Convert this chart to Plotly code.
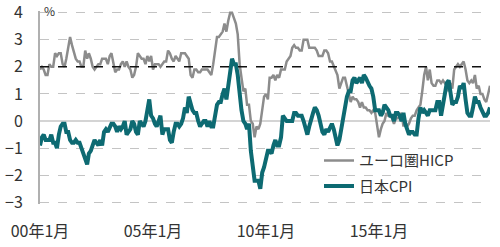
import pandas as pd
import plotly.graph_objects as go

months = pd.date_range("2000-01-01", "2019-12-01", freq="MS")

euro_hicp = [
    1.9, 2.0, 1.9, 1.7, 1.7, 2.1, 2.0, 2.0, 2.5, 2.4, 2.5, 2.5,
    2.1, 2.0, 2.3, 2.7, 3.1, 2.8, 2.5, 2.3, 2.2, 2.2, 2.0, 2.0,
    2.6, 2.3, 2.5, 2.3, 2.0, 1.9, 2.0, 2.1, 2.1, 2.3, 2.3, 2.3,
    2.1, 2.4, 2.5, 2.1, 1.8, 1.9, 1.9, 2.1, 2.2, 2.0, 2.2, 2.0,
    1.9, 1.6, 1.7, 2.0, 2.5, 2.4, 2.3, 2.3, 2.1, 2.4, 2.2, 2.4,
    1.9, 2.1, 2.1, 2.1, 2.0, 2.1, 2.2, 2.2, 2.6, 2.5, 2.3, 2.2,
    2.4, 2.3, 2.2, 2.5, 2.5, 2.5, 2.4, 2.3, 1.7, 1.6, 1.9, 1.9,
    1.8, 1.8, 1.9, 1.9, 1.9, 1.9, 1.8, 1.7, 2.1, 2.6, 3.1, 3.1,
    3.2, 3.3, 3.6, 3.3, 3.7, 4.0, 4.0, 3.8, 3.6, 3.2, 2.1, 1.6,
    1.1, 1.2, 0.6, 0.6, 0.0, -0.1, -0.6, -0.2, -0.3, -0.1, 0.5, 0.9,
    1.0, 0.8, 1.6, 1.6, 1.7, 1.5, 1.7, 1.6, 1.9, 1.9, 1.9, 2.2,
    2.3, 2.4, 2.7, 2.8, 2.7, 2.7, 2.6, 2.6, 3.0, 3.0, 3.0, 2.7,
    2.7, 2.7, 2.7, 2.6, 2.4, 2.4, 2.4, 2.6, 2.6, 2.5, 2.2, 2.2,
    2.0, 1.8, 1.7, 1.2, 1.4, 1.6, 1.6, 1.3, 1.1, 0.7, 0.9, 0.8,
    0.8, 0.7, 0.5, 0.7, 0.5, 0.5, 0.4, 0.4, 0.3, 0.4, 0.3, -0.2,
    -0.6, -0.3, -0.1, 0.0, 0.3, 0.2, 0.2, 0.1, -0.1, 0.1, 0.1, 0.2,
    0.3, -0.2, 0.0, -0.2, -0.1, 0.1, 0.2, 0.2, 0.4, 0.5, 0.6, 1.1,
    1.7, 2.0, 1.5, 1.9, 1.4, 1.3, 1.3, 1.5, 1.5, 1.4, 1.5, 1.4,
    1.3, 1.1, 1.4, 1.2, 1.9, 2.0, 2.1, 2.0, 2.1, 2.2, 1.9, 1.5,
    1.4, 1.5, 1.4, 1.7, 1.2, 1.3, 1.0, 1.0, 0.8, 0.7, 1.0, 1.3,
]

japan_cpi = [
    -0.9, -0.6, -0.5, -0.7, -0.7, -0.7, -0.5, -0.8, -0.8, -1.0, -0.5, -0.2,
    -0.1, -0.1, -0.4, -0.4, -0.7, -0.8, -0.8, -0.7, -0.8, -0.8, -1.0, -1.2,
    -1.4, -1.6, -1.2, -1.1, -0.9, -0.7, -0.8, -0.9, -0.7, -0.9, -0.4, -0.3,
    -0.4, -0.2, -0.1, -0.1, -0.2, -0.4, -0.2, -0.3, -0.2, 0.0, -0.5, -0.4,
    -0.3, 0.0, -0.1, -0.4, -0.5, 0.0, -0.1, -0.2, 0.0, 0.5, 0.8, 0.2,
    0.1, -0.1, -0.2, 0.0, 0.2, -0.5, -0.3, -0.3, -0.3, -0.7, -0.8, -0.4,
    -0.1, -0.1, -0.2, -0.1, 0.1, 0.5, 0.3, 0.9, 0.6, 0.4, 0.3, 0.3,
    0.0, -0.2, -0.1, 0.0, 0.0, -0.2, 0.0, -0.2, -0.2, 0.3, 0.6, 0.7,
    0.7, 1.0, 1.2, 0.8, 1.3, 2.0, 2.3, 2.1, 2.1, 1.7, 1.0, 0.4,
    0.0, -0.1, -0.3, -0.1, -1.1, -1.8, -2.2, -2.2, -2.2, -2.5, -1.9, -1.7,
    -1.3, -1.1, -1.1, -1.2, -0.9, -0.7, -0.9, -0.9, -0.6, 0.2, 0.1, 0.0,
    0.0, 0.0, 0.0, 0.3, 0.3, 0.2, 0.2, 0.2, 0.0, -0.2, -0.5, -0.2,
    0.1, 0.3, 0.5, 0.4, 0.2, -0.2, -0.4, -0.5, -0.3, -0.4, -0.2, -0.1,
    -0.3, -0.7, -0.9, -0.7, -0.3, 0.2, 0.7, 0.9, 1.1, 1.1, 1.5, 1.6,
    1.4, 1.5, 1.6, 1.4, 1.7, 1.6, 1.4, 1.3, 1.2, 0.9, 0.4, 0.4,
    0.4, 0.2, 0.3, 0.6, 0.5, 0.4, 0.2, 0.2, 0.0, 0.3, 0.3, 0.2,
    0.0, 0.3, -0.1, -0.3, -0.5, -0.4, -0.4, -0.5, -0.5, 0.1, 0.5, 0.3,
    0.4, 0.3, 0.2, 0.4, 0.4, 0.4, 0.4, 0.7, 0.7, 0.2, 0.6, 1.0,
    1.4, 1.5, 1.1, 0.6, 0.7, 0.7, 0.9, 1.3, 1.2, 1.4, 0.8, 0.3,
    0.2, 0.2, 0.5, 0.9, 0.7, 0.7, 0.5, 0.3, 0.2, 0.2, 0.3, 0.5,
]

x_tick_vals = ["2000-01-01", "2005-01-01", "2010-01-01", "2015-01-01"]
x_tick_text = ["00年1月", "05年1月", "10年1月", "15年1月"]
y_tick_vals = [-3, -2, -1, 0, 1, 2, 3, 4]
target_level = 2

FONT = "Noto Sans CJK JP"

fig = go.Figure()
fig.add_trace(go.Scatter(
    x=months, y=euro_hicp, mode="lines", name="ユーロ圏HICP",
    line=dict(color="#8c8c8c", width=2.5), legendgroup="a",
))
fig.add_trace(go.Scatter(
    x=months, y=japan_cpi, mode="lines", name="日本CPI",
    line=dict(color="#0d6a72", width=4), legendgroup="b",
))

fig.add_shape(type="line", xref="paper", x0=0, x1=1, yref="y",
              y0=target_level, y1=target_level,
              line=dict(color="#111111", width=1.5, dash="dash"))

fig.add_annotation(text="%", xref="paper", yref="paper", x=0.004, y=1.0,
                   xanchor="left", yanchor="middle", yshift=1, showarrow=False,
                   font=dict(size=12, color="#333333", family=FONT))

fig.update_layout(
    width=500, height=247,
    margin=dict(l=40, r=10, t=11, b=43),
    paper_bgcolor="white", plot_bgcolor="white",
    font=dict(family=FONT, color="#333333", size=15),
    showlegend=True,
    legend=dict(x=0.62, y=0.31, xanchor="left", yanchor="top",
                bgcolor="rgba(0,0,0,0)", font=dict(size=15, family=FONT),
                traceorder="grouped", tracegroupgap=3),
)
fig.update_xaxes(
    range=["2000-01-01", "2019-12-01"],
    tickvals=x_tick_vals, ticktext=x_tick_text,
    showgrid=False, showline=False, zeroline=False, automargin=False,
    ticks="outside", ticklen=13, tickcolor="rgba(0,0,0,0)",
    tickfont=dict(size=16), ticklabeloverflow="allow",
)
fig.update_yaxes(
    range=[-3.06, 4.06], tickvals=y_tick_vals,
    ticktext=[("−" + str(-v)) if v < 0 else str(v) for v in y_tick_vals],
    showgrid=True, gridcolor="#c4c4c4", griddash="dash", gridwidth=1,
    zeroline=True, zerolinecolor="#d4d4d4", zerolinewidth=2,
    showline=True, linecolor="#b0b0b0", linewidth=2, automargin=False,
    ticks="outside", ticklen=12, tickcolor="rgba(0,0,0,0)",
    tickfont=dict(size=16), ticklabeloverflow="allow",
)

fig.write_html("out.html")
